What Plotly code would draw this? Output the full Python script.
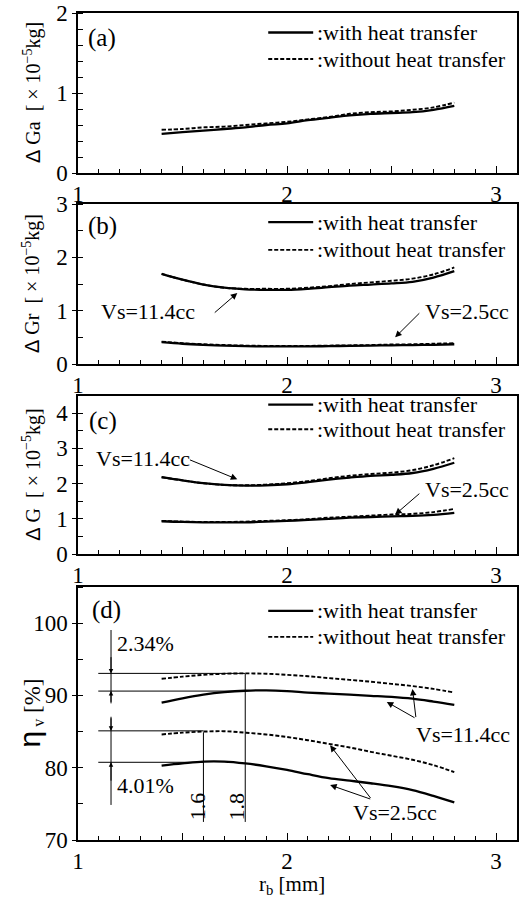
import plotly.graph_objects as go

# ---------------- data ----------------
rb = [1.4, 1.5, 1.6, 1.7, 1.8, 1.9, 2.0, 2.1, 2.2, 2.3, 2.4, 2.5, 2.6, 2.7, 2.8]

# (a) delta Ga
ga_with = [0.49, 0.51, 0.53, 0.55, 0.57, 0.60, 0.62, 0.66, 0.69, 0.72, 0.74, 0.75, 0.76, 0.79, 0.84]
ga_without = [0.54, 0.55, 0.57, 0.58, 0.60, 0.62, 0.64, 0.67, 0.70, 0.74, 0.76, 0.77, 0.79, 0.82, 0.88]

# (b) delta Gr
gr_114_with = [1.69, 1.58, 1.49, 1.43, 1.40, 1.39, 1.39, 1.41, 1.44, 1.47, 1.49, 1.51, 1.54, 1.62, 1.74]
gr_114_without = [1.69, 1.58, 1.49, 1.43, 1.41, 1.41, 1.41, 1.43, 1.46, 1.50, 1.53, 1.56, 1.60, 1.68, 1.81]
gr_25_with = [0.41, 0.38, 0.36, 0.345, 0.335, 0.33, 0.33, 0.33, 0.335, 0.34, 0.345, 0.35, 0.355, 0.36, 0.37]
gr_25_without = [0.42, 0.39, 0.37, 0.355, 0.345, 0.34, 0.34, 0.34, 0.345, 0.35, 0.355, 0.365, 0.37, 0.38, 0.39]

# (c) delta G
g_114_with = [2.18, 2.09, 2.01, 1.96, 1.94, 1.95, 1.98, 2.04, 2.11, 2.17, 2.22, 2.25, 2.30, 2.42, 2.59]
g_114_without = [2.18, 2.09, 2.01, 1.96, 1.95, 1.97, 2.01, 2.07, 2.15, 2.22, 2.27, 2.31, 2.38, 2.52, 2.72]
g_25_with = [0.93, 0.91, 0.90, 0.90, 0.90, 0.92, 0.94, 0.97, 1.00, 1.03, 1.05, 1.07, 1.08, 1.11, 1.17]
g_25_without = [0.94, 0.92, 0.91, 0.91, 0.92, 0.94, 0.96, 0.99, 1.03, 1.06, 1.09, 1.12, 1.14, 1.19, 1.28]

# (d) volumetric efficiency
eta_114_with = [89.0, 89.6, 90.1, 90.45, 90.65, 90.7, 90.6, 90.4, 90.25, 90.1, 89.95, 89.8, 89.55, 89.15, 88.7]
eta_114_without = [92.3, 92.6, 92.85, 93.0, 93.05, 93.0, 92.85, 92.65, 92.4, 92.15, 91.9, 91.6, 91.3, 90.9, 90.4]
eta_25_with = [80.3, 80.6, 80.85, 80.85, 80.6, 80.2, 79.7, 79.1, 78.55, 78.2, 77.85, 77.45, 76.9, 76.1, 75.2]
eta_25_without = [84.6, 84.85, 85.0, 85.05, 84.85, 84.6, 84.25, 83.8, 83.3, 82.8, 82.2, 81.65, 81.1, 80.35, 79.4]

# reference levels in (d)
ref_levels_upper = [93.05, 90.6]
ref_levels_lower = [85.1, 80.75]
ref_rb = [1.6, 1.8]
diff_labels = ["2.34%", "4.01%"]

legend_labels = [":with heat transfer", ":without heat transfer"]
panel_labels = ["(a)", "(b)", "(c)", "(d)"]

FONT = "Liberation Serif"
SOLID = dict(color="black", width=2.3)
DASH = dict(color="black", width=1.9, dash="4px,2px")

fig = go.Figure()

def add_pair(xa, ya, with_vals, without_vals):
    fig.add_trace(go.Scatter(x=rb, y=without_vals, mode="lines", line=DASH, line_shape="spline",
                             xaxis=xa, yaxis=ya, showlegend=False))
    fig.add_trace(go.Scatter(x=rb, y=with_vals, mode="lines", line=SOLID, line_shape="spline",
                             xaxis=xa, yaxis=ya, showlegend=False))

add_pair("x", "y", ga_with, ga_without)
add_pair("x2", "y2", gr_114_with, gr_114_without)
add_pair("x2", "y2", gr_25_with, gr_25_without)
add_pair("x3", "y3", g_114_with, g_114_without)
add_pair("x3", "y3", g_25_with, g_25_without)
add_pair("x4", "y4", eta_114_with, eta_114_without)
add_pair("x4", "y4", eta_25_with, eta_25_without)

def xax(anchor):
    return dict(range=[1, 3.1], tickvals=[1, 1.5, 2, 2.5, 3], ticktext=["1", "", "2", "", "3"],
                ticks="inside", ticklen=7, tickwidth=1, tickcolor="black",
                minor=dict(tick0=1, dtick=0.1, ticks="inside", ticklen=4, tickwidth=1, tickcolor="black"),
                showline=True, linewidth=1.5, linecolor="black", mirror=True, automargin=False,
                showgrid=False, zeroline=False, anchor=anchor, domain=[0, 1],
                tickfont=dict(family=FONT, size=23, color="black"))

def yax(anchor, rng, tickvals, minor_dtick, domain):
    return dict(range=rng, tickvals=tickvals, ticks="outside", ticklen=4, tickwidth=1, tickcolor="black",
                minor=dict(dtick=minor_dtick, tick0=rng[0], ticks="inside", ticklen=5, tickwidth=1, tickcolor="black"),
                showline=True, linewidth=1.5, linecolor="black", mirror=True, automargin=False,
                showgrid=False, zeroline=False, anchor=anchor, domain=domain,
                tickfont=dict(family=FONT, size=23, color="black"))

H_TOP, H_BOT = 13, 840
PH = H_BOT - H_TOP
def dom(top_px, bot_px):
    return [(H_BOT - bot_px) / PH, (H_BOT - top_px) / PH]

dom_a = dom(13, 173)
dom_b = dom(204, 364)
dom_c = dom(395.5, 554)
dom_d = dom(587, 840)

fig.update_layout(
    width=530, height=897,
    margin=dict(l=78, r=13, t=13, b=57, autoexpand=False),
    paper_bgcolor="white", plot_bgcolor="white",
    font=dict(family=FONT, color="black"),
    xaxis=xax("y"), xaxis2=xax("y2"), xaxis3=xax("y3"), xaxis4=xax("y4"),
    yaxis=yax("x", [0, 2], [0, 1, 2], 0.2, dom_a),
    yaxis2=yax("x2", [0, 3], [0, 1, 2, 3], 0.5, dom_b),
    yaxis3=yax("x3", [0, 4.5], [0, 1, 2, 3, 4], 0.5, dom_c),
    yaxis4=yax("x4", [70, 105], [70, 80, 90, 100], 5, dom_d),
    showlegend=False,
)

shapes = []
annotations = []

# legends drawn inside each panel
legend_y = {"": (1.756, 1.425), "2": (2.66, 2.14), "3": (4.24, 3.54), "4": (101.7, 98.1)}
for k, (y1, y2) in legend_y.items():
    xr, yr = "x" + k, "y" + k
    shapes.append(dict(type="line", xref=xr, yref=yr, x0=1.91, x1=2.125, y0=y1, y1=y1,
                       line=dict(color="black", width=2.3)))
    shapes.append(dict(type="line", xref=xr, yref=yr, x0=1.91, x1=2.125, y0=y2, y1=y2,
                       line=dict(color="black", width=1.9, dash="4px,2px")))
    for yy, txt in zip((y1, y2), legend_labels):
        annotations.append(dict(xref=xr, yref=yr, x=2.135, y=yy, text=txt, showarrow=False,
                                xanchor="left", yanchor="middle",
                                font=dict(family=FONT, size=22, color="black")))

# panel labels
for k, lab, xx, yy in [("", "(a)", 1.04, 1.69), ("2", "(b)", 1.04, 2.58), ("3", "(c)", 1.045, 3.78),
                       ("4", "(d)", 1.055, 101.8)]:
    annotations.append(dict(xref="x" + k, yref="y" + k, x=xx, y=yy, text=lab, showarrow=False,
                            xanchor="left", yanchor="middle",
                            font=dict(family=FONT, size=25, color="black")))

# y-axis titles
def ytitle(text, domain, xpix=32):
    annotations.append(dict(xref="paper", yref="paper", x=(xpix - 78) / 439, y=sum(domain) / 2,
                            text=text, showarrow=False, textangle=-90, xanchor="center", yanchor="middle",
                            font=dict(family=FONT, size=20, color="black")))

unit = "[ × 10<sup>−5</sup>kg]"
ytitle("<span style='font-family:Liberation Sans'>Δ</span> Ga  " + unit, dom_a)
ytitle("<span style='font-family:Liberation Sans'>Δ</span> Gr  " + unit, dom_b)
ytitle("<span style='font-family:Liberation Sans'>Δ</span> G  " + unit, dom_c)
annotations.append(dict(xref="paper", yref="paper", x=(30 - 78) / 439, y=sum(dom_d) / 2,
                        text="<span style='font-family:Liberation Sans;font-size:30px'>η</span><sub> v</sub> [%]",
                        showarrow=False, textangle=-90, xanchor="center", yanchor="middle",
                        font=dict(family=FONT, size=23, color="black")))

# x-axis title
annotations.append(dict(xref="paper", yref="paper", x=(292 - 78) / 439, y=-(885 - 840) / PH,
                        text="r<sub>b</sub> [mm]", showarrow=False, xanchor="center", yanchor="middle",
                        font=dict(family=FONT, size=21, color="black")))

# Vs labels and arrows
def label(k, x, y, txt):
    annotations.append(dict(xref="x" + k, yref="y" + k, x=x, y=y, text=txt, showarrow=False,
                            xanchor="center", yanchor="middle",
                            font=dict(family=FONT, size=22, color="black")))

def arrow(k, tail, head, size=1.3):
    annotations.append(dict(xref="x" + k, yref="y" + k, axref="x" + k, ayref="y" + k,
                            x=head[0], y=head[1], ax=tail[0], ay=tail[1], text="",
                            showarrow=True, arrowhead=2, arrowsize=size, arrowwidth=1,
                            arrowcolor="black", standoff=0, startstandoff=0))

label("2", 1.335, 0.98, "Vs=11.4cc")
arrow("2", (1.647, 0.94), (1.762, 1.33))
label("2", 2.86, 0.98, "Vs=2.5cc")
arrow("2", (2.64, 0.98), (2.517, 0.50))

label("3", 1.31, 2.71, "Vs=11.4cc")
arrow("3", (1.528, 2.69), (1.762, 2.12))
label("3", 2.86, 1.84, "Vs=2.5cc")
arrow("3", (2.64, 1.75), (2.517, 1.12))

label("4", 2.844, 84.66, "Vs=11.4cc")
arrow("4", (2.617, 86.8), (2.477, 89.1))
arrow("4", (2.617, 86.8), (2.60, 90.9))
label("4", 2.517, 73.8, "Vs=2.5cc")
arrow("4", (2.405, 75.6), (2.206, 77.6))
arrow("4", (2.405, 75.6), (2.206, 83.1))

# reference lines in (d)
thin = dict(color="black", width=1)
for lvl in ref_levels_upper:
    shapes.append(dict(type="line", xref="x4", yref="y4", x0=1.097, x1=ref_rb[1], y0=lvl, y1=lvl, line=thin))
for lvl in ref_levels_lower:
    shapes.append(dict(type="line", xref="x4", yref="y4", x0=1.097, x1=ref_rb[0], y0=lvl, y1=lvl, line=thin))
shapes.append(dict(type="line", xref="x4", yref="y4", x0=ref_rb[0], x1=ref_rb[0], y0=72.5, y1=84.9, line=thin))
shapes.append(dict(type="line", xref="x4", yref="y4", x0=ref_rb[1], x1=ref_rb[1], y0=72.5, y1=93.0, line=thin))
# dimension lines
xd = 1.158
shapes.append(dict(type="line", xref="x4", yref="y4", x0=xd, x1=xd, y0=88.9, y1=99.05, line=thin))
shapes.append(dict(type="line", xref="x4", yref="y4", x0=xd, x1=xd, y0=74.85, y1=87.05, line=thin))
arrow("4", (xd, 95.5), (xd, ref_levels_upper[0]), 0.9)
arrow("4", (xd, 88.9), (xd, ref_levels_upper[1]), 0.9)
arrow("4", (xd, 87.05), (xd, ref_levels_lower[0]), 0.9)
arrow("4", (xd, 78.0), (xd, ref_levels_lower[1]), 0.9)

annotations.append(dict(xref="x4", yref="y4", x=1.177, y=97.2, text=diff_labels[0], showarrow=False,
                        xanchor="left", yanchor="middle", font=dict(family=FONT, size=22, color="black")))
annotations.append(dict(xref="x4", yref="y4", x=1.177, y=77.5, text=diff_labels[1], showarrow=False,
                        xanchor="left", yanchor="middle", font=dict(family=FONT, size=22, color="black")))
for xv, xt in zip(ref_rb, (1.572, 1.759)):
    annotations.append(dict(xref="x4", yref="y4", x=xt, y=74.6, text=str(xv), showarrow=False,
                            textangle=-90, xanchor="center", yanchor="middle",
                            font=dict(family=FONT, size=22, color="black")))

fig.update_layout(shapes=shapes, annotations=annotations)
fig.write_html("out.html")
